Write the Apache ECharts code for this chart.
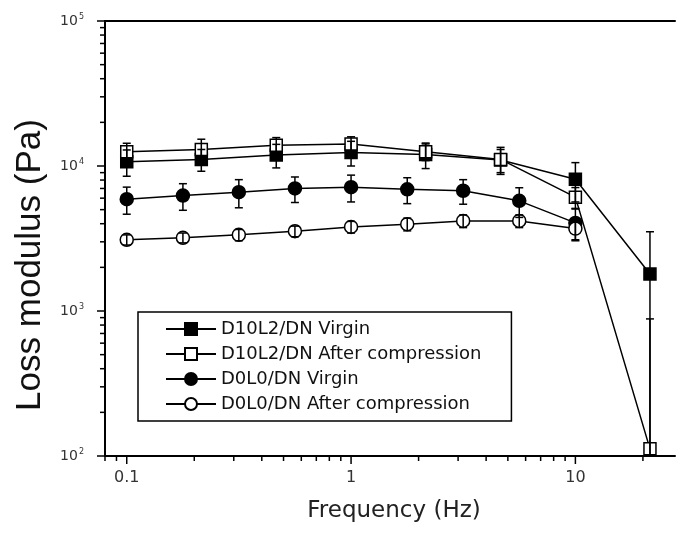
<!DOCTYPE html>
<html><head><meta charset="utf-8">
<script src="https://cdn.jsdelivr.net/npm/echarts@6/dist/echarts.min.js"></script>
<style>html,body{margin:0;padding:0;background:#fff}#c{width:678px;height:534px}</style>
</head><body><div id="c"></div>
<script>
// ---- data ----
const freqSquare = [0.1, 0.215, 0.464, 1, 2.15, 4.64, 10, 21.5];
const freqCircle = [0.1, 0.178, 0.316, 0.562, 1, 1.78, 3.16, 5.62, 10];

const d10l2Virgin    = [10700, 11100, 11900, 12400, 12000, 11000, 8100, 1800];
const d10l2VirginErr = [2200, 1900, 2200, 2400, 2400, 2000, 2450, 1720];
const d10l2After     = [12550, 13000, 13900, 14200, 12550, 11100, 6100, 112];
const d10l2AfterErr  = [1800, 2300, 1800, 1700, 1650, 2350, 1000, 770];
const d0l0Virgin     = [5900, 6250, 6600, 7000, 7150, 6900, 6750, 5750, 4050];
const d0l0VirginErr  = [1250, 1300, 1450, 1400, 1500, 1400, 1300, 1330, 1000];
const d0l0After      = [3100, 3200, 3350, 3550, 3800, 3970, 4180, 4180, 3700];
const d0l0AfterErr   = [250, 250, 300, 300, 350, 400, 420, 420, 600];

const seriesNames = ['D10L2/DN Virgin', 'D10L2/DN After compression', 'D0L0/DN Virgin', 'D0L0/DN After compression'];

const xMin = 0.08, xMax = 27.8, yMin = 100, yMax = 100000;
const xMajorTicks = [0.1, 1, 10];
const xMinorTicks = [0.08, 0.09, 0.2, 0.3, 0.4, 0.5, 0.6, 0.7, 0.8, 0.9, 2, 3, 4, 5, 6, 7, 8, 9, 20];
const yMajorTicks = [100, 1000, 10000, 100000];
const yMinorTicks = [200, 300, 400, 500, 600, 700, 800, 900, 2000, 3000, 4000, 5000, 6000, 7000, 8000, 9000,
                     20000, 30000, 40000, 50000, 60000, 70000, 80000, 90000];

// ---- helpers ----
const pairs = (xs, ys) => xs.map((x, i) => [x, ys[i]]);
const triples = (xs, ys, es) => xs.map((x, i) => [x, ys[i], es[i]]);
const isPow10 = v => Math.abs(Math.log10(v) - Math.round(Math.log10(v))) < 1e-6;

function lineSeries(name, xs, ys, symbol, filled) {
  return {
    name, type: 'line', data: pairs(xs, ys), symbol, symbolSize: symbol === 'rect' ? 12 : 13,
    showSymbol: true, silent: true, z: 4,
    lineStyle: { color: '#000', width: 1.5 },
    itemStyle: { color: filled ? '#000' : '#fff', borderColor: '#000', borderWidth: 1.5 }
  };
}

function errorSeries(xs, ys, es) {
  return {
    type: 'custom', data: triples(xs, ys, es), silent: true, z: 5, clip: true,
    encode: { x: 0, y: 1 },
    renderItem(params, api) {
      const x = api.value(0), y = api.value(1), e = api.value(2);
      const hi = y + e;
      let lo = y - e;
      const clipped = lo <= yMin;
      if (clipped) lo = yMin;
      const pHi = api.coord([x, hi]), pLo = api.coord([x, lo]);
      const st = { stroke: '#000', lineWidth: 1.5 };
      const w = 4;
      const children = [
        { type: 'line', shape: { x1: pHi[0], y1: pHi[1], x2: pLo[0], y2: pLo[1] }, style: st },
        { type: 'line', shape: { x1: pHi[0] - w, y1: pHi[1], x2: pHi[0] + w, y2: pHi[1] }, style: st }
      ];
      if (!clipped) children.push({ type: 'line', shape: { x1: pLo[0] - w, y1: pLo[1], x2: pLo[0] + w, y2: pLo[1] }, style: st });
      return { type: 'group', children };
    }
  };
}

function tickSeries(values, dir, len) {
  const data = values.map(v => dir === 'x' ? [v, yMin] : [xMin, v]);
  return {
    type: 'custom', data, silent: true, clip: false, z: 6,
    encode: { x: 0, y: 1 },
    renderItem(params, api) {
      const p = api.coord([api.value(0), api.value(1)]);
      const shape = dir === 'x'
        ? { x1: p[0], y1: p[1], x2: p[0], y2: p[1] + len }
        : { x1: p[0] - len, y1: p[1], x2: p[0], y2: p[1] };
      return { type: 'line', shape, style: { stroke: '#000', lineWidth: 1.5 } };
    }
  };
}

const chart = echarts.init(document.getElementById('c'), null, { renderer: 'canvas' });
chart.setOption({
  animation: false,
  backgroundColor: '#fff',
  grid: { left: 105, right: 0, top: 21, bottom: 78, containLabel: false },
  xAxis: [{
    type: 'log', logBase: 10, min: xMin, max: xMax,
    name: 'Frequency (Hz)', nameLocation: 'middle', nameGap: 44,
    nameTextStyle: { fontFamily: 'DejaVu Sans', fontSize: 23, color: '#222', padding: [0, 0, 0, 8] },
    axisLine: { show: true, lineStyle: { color: '#000', width: 2 } },
    axisTick: { show: false },
    splitLine: { show: false },
    axisLabel: {
      margin: 14, fontFamily: 'DejaVu Sans', fontSize: 16, color: '#333',
      showMinLabel: true, showMaxLabel: true,
      formatter: v => isPow10(v) ? String(Math.round(v * 10) / 10) : ''
    }
  }, {
    type: 'log', logBase: 10, min: xMin, max: xMax, position: 'top', gridIndex: 0,
    axisLine: { show: true, lineStyle: { color: '#000', width: 2 } },
    axisTick: { show: false }, axisLabel: { show: false }, splitLine: { show: false }
  }],
  yAxis: {
    type: 'log', logBase: 10, min: yMin, max: yMax,
    axisLine: { show: true, lineStyle: { color: '#000', width: 2 } },
    axisTick: { show: false },
    splitLine: { show: false },
    axisLabel: {
      margin: 21, fontFamily: 'DejaVu Sans', fontSize: 14, color: '#333',
      formatter: v => '10{s|' + Math.round(Math.log10(v)) + '}',
      rich: { s: { fontFamily: 'DejaVu Sans', fontSize: 8, color: '#333', padding: [0, 0, 9, 1] } }
    }
  },
  legend: {
    data: seriesNames, orient: 'vertical', left: 138, top: 312,
    padding: [8, 30, 8, 27], itemGap: 7, itemWidth: 50, itemHeight: 15,
    borderColor: '#000', borderWidth: 1.5, backgroundColor: '#fff',
    textStyle: { fontFamily: 'DejaVu Sans', fontSize: 18, lineHeight: 18, color: '#111' },
    selectedMode: false
  },
  graphic: [{
    type: 'text', x: 30, y: 265, rotation: Math.PI / 2,
    style: { text: 'Loss modulus (Pa)', font: '35px "Liberation Sans", Arial, sans-serif', fill: '#111',
             textAlign: 'center', textVerticalAlign: 'middle' }
  }],
  series: [
    errorSeries(freqSquare, d10l2Virgin, d10l2VirginErr),
    errorSeries(freqSquare, d10l2After, d10l2AfterErr),
    errorSeries(freqCircle, d0l0Virgin, d0l0VirginErr),
    errorSeries(freqCircle, d0l0After, d0l0AfterErr),
    lineSeries(seriesNames[0], freqSquare, d10l2Virgin, 'rect', true),
    lineSeries(seriesNames[1], freqSquare, d10l2After, 'rect', false),
    lineSeries(seriesNames[2], freqCircle, d0l0Virgin, 'circle', true),
    lineSeries(seriesNames[3], freqCircle, d0l0After, 'circle', false),
    tickSeries(xMinorTicks, 'x', 5),
    tickSeries(xMajorTicks, 'x', 8),
    tickSeries(yMinorTicks, 'y', 5),
    tickSeries(yMajorTicks, 'y', 8)
  ]
});
</script>
</body></html>
